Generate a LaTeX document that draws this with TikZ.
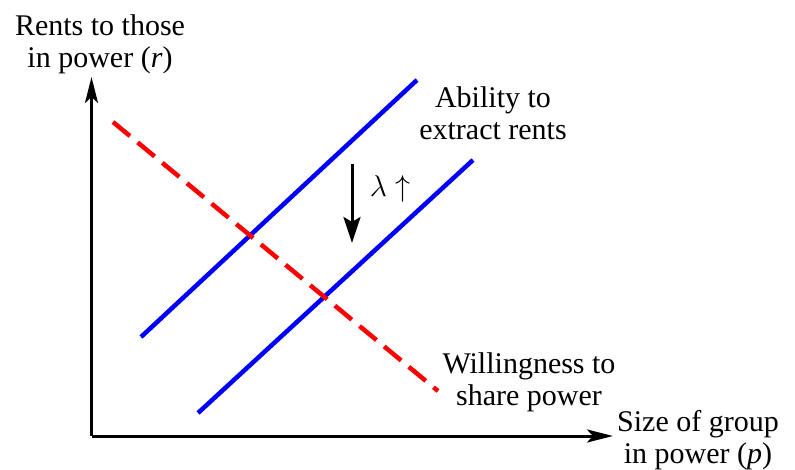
\RequirePackage{fix-cm}
\documentclass[tikz,border=0pt]{standalone}
\usepackage{fontspec}
\setmainfont{Liberation Serif}
\usetikzlibrary{arrows.meta}
\begin{document}
\begin{tikzpicture}[x=1pt,y=-1pt,
  axis/.style={line width=3pt,-{Stealth[length=26pt,width=13pt,inset=6pt]}},
  curve/.style={line width=4.5pt,blue},
  wcurve/.style={line width=4.5pt,red,dash pattern=on 22pt off 10pt},
  lbl/.style={font=\fontsize{30}{32}\selectfont,align=center,inner sep=0pt}]
\useasboundingbox (0,0) rectangle (795,470);
\coordinate (O) at (91.5,436);
\coordinate (Ytip) at (91.5,77);
\coordinate (Xtip) at (613,436);
\draw[axis] (O) -- (Ytip);
\draw[axis] (O) -- (Xtip);
\coordinate (a1) at (141,337); \coordinate (a2) at (417,80);
\coordinate (b1) at (198,413); \coordinate (b2) at (473,160);
\coordinate (w1) at (113,122); \coordinate (w2) at (438,391);
\draw[curve] (a1) -- (a2);
\draw[curve] (b1) -- (b2);
\draw[wcurve] (w1) -- (w2);
\coordinate (d1) at (352,164); \coordinate (d2) at (352,243);
\draw[line width=3pt,-{Stealth[length=26pt,width=17pt,inset=5pt]}] (d1) -- (d2);
\node[lbl] (lam) at (390,189) {$\lambda\uparrow$};
\node[lbl] (abil) at (493,113) {Ability to\\extract rents};
\node[lbl] (will) at (529,382) {Willingness to\\share power};
\node[lbl] (size) at (698,440) {Size of group\\in power (\textit{p})};
\node[lbl] (rent) at (100,44) {Rents to those\\in power (\textit{r})};
\end{tikzpicture}
\end{document}
